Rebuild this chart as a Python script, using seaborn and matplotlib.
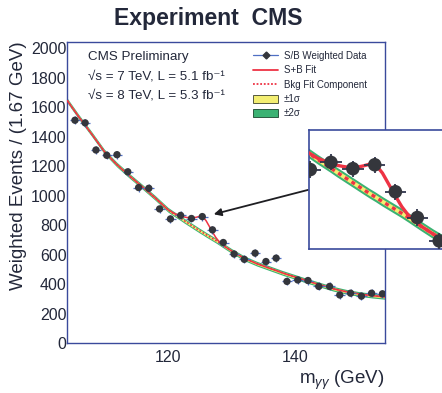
import numpy as np
import pandas as pd
import matplotlib
matplotlib.use("Agg")
import matplotlib.pyplot as plt
from matplotlib.lines import Line2D
from matplotlib.patches import Patch
from matplotlib.ticker import MultipleLocator
import seaborn as sns

# ---------------- data ----------------
mass = [105.4, 107.0, 108.7, 110.4, 112.0, 113.7, 115.4, 117.0, 118.7, 120.4,
        122.0, 123.7, 125.4, 127.0, 128.7, 130.4, 132.0, 133.7, 135.4, 137.0,
        138.7, 140.4, 142.0, 143.7, 145.4, 147.0, 148.7, 150.4, 152.0, 153.7]
events = [1512, 1494, 1310, 1274, 1278, 1162, 1055, 1050, 910, 842,
          866, 845, 858, 768, 682, 604, 568, 610, 553, 576,
          418, 428, 424, 384, 384, 326, 338, 318, 338, 334]
mass_halfbin = 0.83
event_err = 27

fit_mass = [104.2, 106, 108, 110, 112, 114, 116, 118, 120, 121, 122, 122.5, 123,
            123.5, 124, 124.5, 125, 125.5, 126, 126.5, 127, 127.5, 128, 129, 130,
            132, 134, 136, 138, 140, 142, 144, 146, 148, 150, 152, 154.1]
bkg_fit = [1645, 1535, 1420, 1300, 1210, 1133, 1060, 985, 905, 875, 847, 832, 818,
           804, 790, 776, 762, 749, 735, 722, 709, 696, 682, 653, 625,
           575, 538, 507, 476, 448, 420, 394, 368, 348, 333, 322, 313]
signal_fit = [0, 0, 0, 0, 0, 0, 0, 0, 0, 4, 15, 24, 34,
              45, 60, 78, 98, 108, 95, 70, 45, 22, 8, 0, 0,
              0, 0, 0, 0, 0, 0, 0, 0, 0, 0, 0, 0]
band_1sigma = 8
band_2sigma = 16

title = "Experiment  CMS"
ylabel = "Weighted Events / (1.67 GeV)"
xlabel = r"m$_{\gamma\gamma}$ (GeV)"
cms_lines = ["CMS Preliminary",
             "\u221as = 7 TeV, L = 5.1 fb\u207b\u00b9",
             "\u221as = 8 TeV, L = 5.3 fb\u207b\u00b9"]
legend_labels = ["S/B Weighted Data", "S+B Fit", "Bkg Fit Component",
                 "\u00b11\u03c3", "\u00b12\u03c3"]

# ---------------- style ----------------
sns.set_theme(style="white")
plt.rcParams["font.family"] = ["Liberation Sans", "DejaVu Sans"]
plt.rcParams["mathtext.fontset"] = "custom"
plt.rcParams["mathtext.rm"] = "Liberation Sans"
plt.rcParams["mathtext.it"] = "Liberation Sans:italic"
plt.rcParams["mathtext.bf"] = "Liberation Sans:bold"

FRAME = "#3a4a9c"
TXT = "#23283a"
RED = "#ee3344"
YEL = "#f3ee72"
GRN = "#3bb273"
ERRC = "#4f6fc4"
MARK = "#34363c"

df = pd.DataFrame({"mass": mass, "events": events})
fit = pd.DataFrame({"mass": fit_mass, "bkg": bkg_fit, "sig": signal_fit})
fit["sb"] = fit["bkg"] + fit["sig"]

fig = plt.figure(figsize=(4.42, 3.93), dpi=100)
ax = fig.add_axes([0.1523, 0.1272, 0.7187, 0.7667])


def draw_content(a, lw_line, ms, err_color, err_lw):
    a.fill_between(fit["mass"], fit["bkg"] - band_2sigma, fit["bkg"] + band_2sigma,
                   color=GRN, lw=0, zorder=1)
    a.fill_between(fit["mass"], fit["bkg"] - band_1sigma, fit["bkg"] + band_1sigma,
                   color=YEL, lw=0, zorder=2)
    sns.lineplot(data=fit, x="mass", y="bkg", ax=a, color=RED, lw=lw_line,
                 linestyle=(0, (1.2, 1.2)), estimator=None, sort=False, zorder=3)
    sns.lineplot(data=fit, x="mass", y="sb", ax=a, color=RED, lw=lw_line,
                 estimator=None, sort=False, zorder=4)
    a.errorbar(df["mass"], df["events"], xerr=mass_halfbin, yerr=event_err,
               fmt="none", ecolor=err_color, elinewidth=err_lw, capsize=0, zorder=5)
    sns.scatterplot(data=df, x="mass", y="events", ax=a, color=MARK, s=ms,
                    edgecolor="none", zorder=6)


draw_content(ax, 1.1, 28, ERRC, 0.9)

ax.set_xlim(104.2, 154.1)
ax.set_ylim(0, 2045)
ax.xaxis.set_major_locator(MultipleLocator(20))
ax.xaxis.set_minor_locator(MultipleLocator(5))
ax.yaxis.set_major_locator(MultipleLocator(200))
ax.yaxis.set_minor_locator(MultipleLocator(50))
ax.tick_params(axis="both", which="both", direction="in", color=FRAME,
               labelcolor=TXT, labelsize=11.5, width=0.9)
ax.tick_params(axis="y", which="major", length=5.5, pad=0.5)
ax.tick_params(axis="y", which="minor", length=2.8)
ax.tick_params(axis="x", which="major", length=5.5, pad=5)
ax.tick_params(axis="x", which="minor", length=2.4)
for s in ax.spines.values():
    s.set_color(FRAME)
    s.set_linewidth(1.0)

ax.set_xlabel(xlabel, loc="right", fontsize=13.5, color=TXT, labelpad=3)
ax.set_ylabel(ylabel, loc="top", fontsize=13.5, color=TXT, labelpad=3)

fig.text(208 / 442, 1 - 18.5 / 393, title, ha="center", va="center",
         fontsize=16.6, fontweight="bold", color=TXT)

for line, ypx in zip(cms_lines, [56.7, 76.7, 95.0]):
    fig.text(88 / 442, 1 - ypx / 393, line, ha="left", va="center",
             fontsize=9.6, color=TXT)

handles = [
    Line2D([], [], color=ERRC, lw=0.9, marker="D", markersize=3.5,
           markerfacecolor=MARK, markeredgecolor=MARK),
    Line2D([], [], color=RED, lw=1.3),
    Line2D([], [], color=RED, lw=1.3, linestyle=(0, (1, 1))),
    Patch(facecolor=YEL, edgecolor="#555a40", lw=0.7),
    Patch(facecolor=GRN, edgecolor="#2a5a40", lw=0.7),
]
leg = ax.legend(handles, legend_labels, loc="upper left",
                bbox_to_anchor=(253 / 442, 1 - 51 / 393),
                bbox_transform=fig.transFigure, frameon=False, fontsize=7,
                handlelength=2.6, handleheight=0.85, handletextpad=0.6,
                labelspacing=0.45, borderpad=0, borderaxespad=0)
for t in leg.get_texts():
    t.set_color(TXT)

# arrow pointing to the excess
ax.annotate("", xy=(127.2, 874), xytext=(142.0, 1039),
            arrowprops=dict(arrowstyle="-|>", color="#1e1e22", lw=1.3,
                            mutation_scale=11, shrinkA=0, shrinkB=0), zorder=7)

# zoomed inset
ins = fig.add_axes([309 / 442, 1 - 249.3 / 393, 0.353, 119.3 / 393])
ins.set_facecolor("white")
draw_content(ins, 2.4, 95, "#30364e", 1.3)
ins.set_xlim(120.3, 132.4)
ins.set_ylim(576, 974)
ins.set_xticks([])
ins.set_yticks([])
ins.set_xlabel("")
ins.set_ylabel("")
for s in ins.spines.values():
    s.set_color(FRAME)
    s.set_linewidth(1.2)

fig.savefig("out.png", dpi=100)
